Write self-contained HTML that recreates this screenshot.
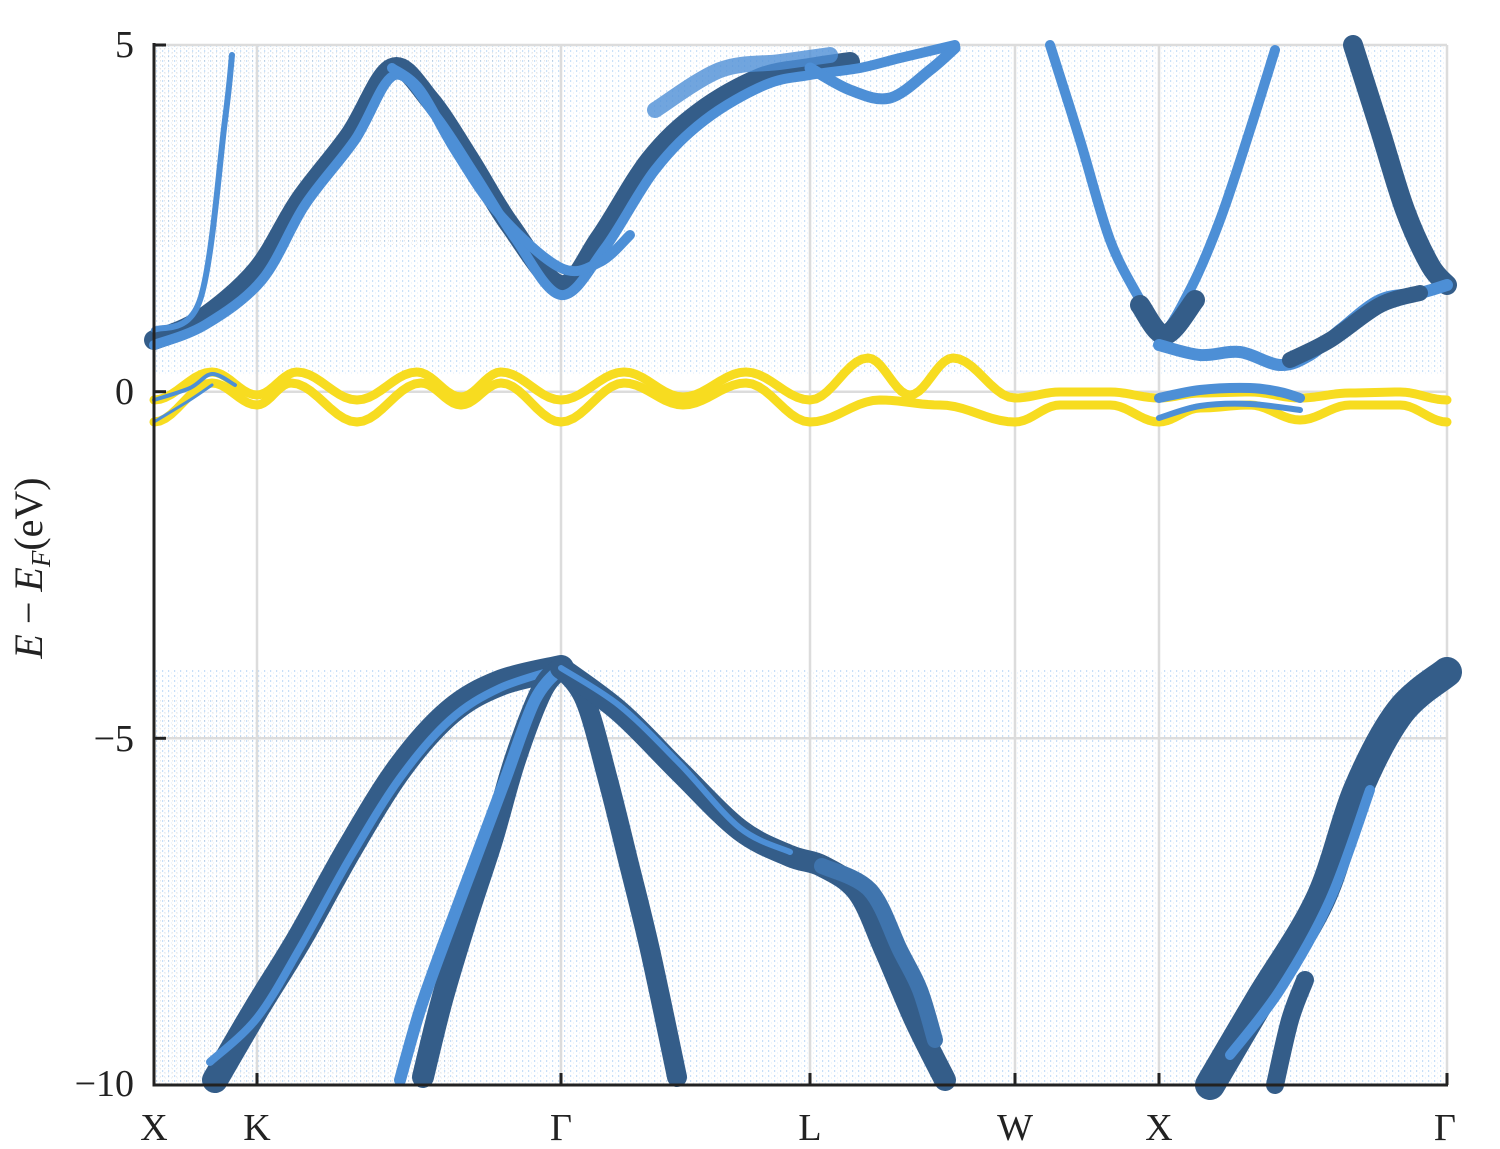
<!DOCTYPE html>
<html><head><meta charset="utf-8"><style>
html,body{margin:0;padding:0;background:#fff}
svg{display:block}
text{font-family:"Liberation Serif",serif;fill:#222}
</style></head><body>
<svg id="s" width="1500" height="1149" viewBox="0 0 1500 1149" xmlns="http://www.w3.org/2000/svg">
<defs>
<pattern id="sp" width="6" height="5" patternUnits="userSpaceOnUse">
<rect x="0" y="0" width="1.2" height="2" fill="#5aa0ea"/>
<rect x="3" y="2.5" width="1" height="1" fill="#9cc6f2"/>
</pattern>
<pattern id="sp2" width="4" height="4" patternUnits="userSpaceOnUse">
<rect x="0" y="0" width="1" height="1.5" fill="#777"/>
</pattern>
</defs>
<rect width="1500" height="1149" fill="#fff"/>
<rect x="154" y="45" width="1293" height="330" fill="url(#sp)" opacity="0.32"/>
<rect x="154" y="45" width="400" height="200" fill="url(#sp2)" opacity="0.18"/>
<rect x="154" y="670" width="1293" height="415" fill="url(#sp)" opacity="0.34"/>
<rect x="154" y="700" width="300" height="385" fill="url(#sp2)" opacity="0.15"/>
<g stroke="#dcdcdc" stroke-width="2.5">
<line x1="257" y1="45" x2="257" y2="1085"/><line x1="561" y1="45" x2="561" y2="1085"/>
<line x1="810" y1="45" x2="810" y2="1085"/><line x1="1015" y1="45" x2="1015" y2="1085"/>
<line x1="1159" y1="45" x2="1159" y2="1085"/><line x1="1447" y1="45" x2="1447" y2="1085"/>
<line x1="154" y1="45" x2="1447" y2="45"/><line x1="154" y1="391.7" x2="1447" y2="391.7"/>
<line x1="154" y1="738.3" x2="1447" y2="738.3"/>
</g>
<g id="bands"></g>
<g stroke="#222" stroke-width="3">
<line x1="154" y1="43" x2="154" y2="1086.5"/><line x1="152.5" y1="1085" x2="1448" y2="1085"/>
<line x1="154" y1="45" x2="166" y2="45"/><line x1="154" y1="391.7" x2="166" y2="391.7"/>
<line x1="154" y1="738.3" x2="166" y2="738.3"/>
<line x1="257" y1="1085" x2="257" y2="1073"/><line x1="561" y1="1085" x2="561" y2="1073"/>
<line x1="810" y1="1085" x2="810" y2="1073"/><line x1="1015" y1="1085" x2="1015" y2="1073"/>
<line x1="1159" y1="1085" x2="1159" y2="1073"/><line x1="1447" y1="1085" x2="1447" y2="1073"/>
</g>
<g font-size="38" text-anchor="end">
<text x="134" y="57">5</text><text x="134" y="404">0</text>
<text x="134" y="751">−5</text><text x="134" y="1096">−10</text>
</g>
<g font-size="38" text-anchor="middle">
<text x="154" y="1140">X</text><text x="257" y="1140">K</text><text x="561" y="1140">Γ</text>
<text x="810" y="1140">L</text><text x="1015" y="1140">W</text><text x="1159" y="1140">X</text>
<text x="1445" y="1140">Γ</text>
</g>
<text transform="translate(42,568) rotate(-90)" font-size="40" text-anchor="middle"><tspan font-style="italic">E</tspan> − <tspan font-style="italic">E</tspan><tspan font-style="italic" font-size="27" dy="8">F</tspan><tspan dy="-8">(eV)</tspan></text>
</svg>
<script>
function cr(p){let d="M"+p[0][0]+","+p[0][1];for(let i=0;i<p.length-1;i++){const a=p[Math.max(0,i-1)],b=p[i],c=p[i+1],e=p[Math.min(p.length-1,i+2)];d+=" C"+(b[0]+(c[0]-a[0])/6)+","+(b[1]+(c[1]-a[1])/6)+" "+(c[0]-(e[0]-b[0])/6)+","+(c[1]-(e[1]-b[1])/6)+" "+c[0]+","+c[1];}return d;}
const g=document.getElementById("bands");let h="";
function L(p,col,w,op){h+='<path d="'+cr(p)+'" fill="none" stroke="'+col+'" stroke-width="'+w+'" stroke-linecap="round" stroke-linejoin="round" opacity="'+(op||1)+'"/>';}
const D="#345d89",B="#4d8fd6",M="#3f74ad";
L([[561,668],[500,683],[450,712],[400,768],[350,848],[300,938],[257,1008],[215,1080]],D,26);
L([[561,668],[500,688],[450,720],[400,778],[350,858],[300,948],[257,1018],[210,1062]],B,8);
L([[561,668],[542,690],[515,760],[492,840],[466,920],[442,1000],[423,1077]],D,22);
L([[561,668],[535,700],[505,780],[475,860],[445,940],[420,1010],[400,1080]],B,12);
L([[561,668],[585,700],[608,780],[628,860],[650,950],[677,1077]],D,20);
L([[561,668],[620,712],[680,772],[740,830],[790,856],[822,866],[858,892],[885,950],[915,1020],[945,1080]],D,22);
L([[822,866],[870,890],[900,950],[920,990],[935,1040]],M,16);
L([[561,668],[620,706],[680,764],[740,828],[790,852]],B,6);
L([[1210,1085],[1260,1000],[1320,900],[1358,790],[1400,712],[1447,672]],D,30);
L([[1230,1055],[1280,990],[1330,900],[1370,790]],B,10);
L([[1275,1085],[1290,1020],[1305,980]],D,18);
L([[154,340],[200,320],[257,270],[300,200],[350,135],[392,68],[430,100],[470,160],[510,225],[561,285],[600,238],[650,160],[700,112],[760,78],[810,68],[850,62]],D,20);
L([[154,345],[205,325],[262,280],[305,205],[355,140],[395,75],[435,115],[475,175],[515,238],[561,295],[605,248],[655,170],[705,120],[765,85],[810,75],[860,68],[900,58],[955,45]],B,10);
L([[392,68],[420,90],[455,150],[500,215],[561,268],[600,262],[630,235]],B,10);
L([[154,330],[200,300],[225,120],[232,55]],B,6);
L([[810,68],[850,90],[890,98],[930,70],[955,48]],B,11);
L([[655,110],[720,70],[780,62],[830,55]],B,16,0.8);
L([[1050,45],[1080,140],[1110,240],[1140,300],[1160,335],[1190,290],[1220,220],[1250,130],[1275,50]],B,10);
L([[1140,305],[1165,335],[1195,300]],D,20);
L([[1353,45],[1380,130],[1405,210],[1430,265],[1447,285]],D,20);
L([[1159,345],[1200,355],[1240,352],[1280,365],[1310,355],[1340,330],[1380,300],[1420,293],[1447,285]],B,12);
L([[1290,360],[1330,340],[1380,305],[1420,293]],D,16);
function cosi(keys){const out=[];for(let i=0;i<keys.length-1;i++){const [x0,y0]=keys[i],[x1,y1]=keys[i+1];for(let t=0;t<1;t+=0.1){const s=(1-Math.cos(Math.PI*t))/2;out.push([x0+(x1-x0)*t,y0+(y1-y0)*s]);}}out.push(keys[keys.length-1]);return out;}
function P(p,col,w){h+='<polyline points="'+p.map(q=>q.join(",")).join(" ")+'" fill="none" stroke="'+col+'" stroke-width="'+w+'" stroke-linejoin="round" stroke-linecap="round"/>';}
const up=cosi([[154,400],[212,372],[257,395],[297,372],[357,400],[417,372],[461,397],[501,372],[561,400],[624,372],[683,397],[746,372],[810,400],[868,358],[910,395],[953,358],[1015,398],[1060,392],[1110,392],[1159,398],[1200,393],[1250,392],[1300,398],[1350,393],[1400,392],[1447,400]]);
const lo=cosi([[154,422],[212,383],[257,405],[291,383],[357,422],[421,383],[461,405],[501,383],[561,422],[624,383],[683,405],[746,383],[810,422],[880,400],[940,405],[1015,422],[1060,405],[1110,405],[1159,422],[1200,408],[1250,405],[1300,420],[1350,405],[1400,405],[1447,422]]);
P(up,"#f7dc20",9);P(lo,"#f7dc20",9);
L([[154,400],[190,388],[212,374],[235,385]],B,4);
L([[154,422],[190,400],[212,385]],B,3);
L([[1159,398],[1200,390],[1250,388],[1280,392],[1300,398]],B,10);
L([[1159,418],[1200,406],[1250,404],[1300,410]],B,6);
g.innerHTML=h;
</script>
</body></html>
